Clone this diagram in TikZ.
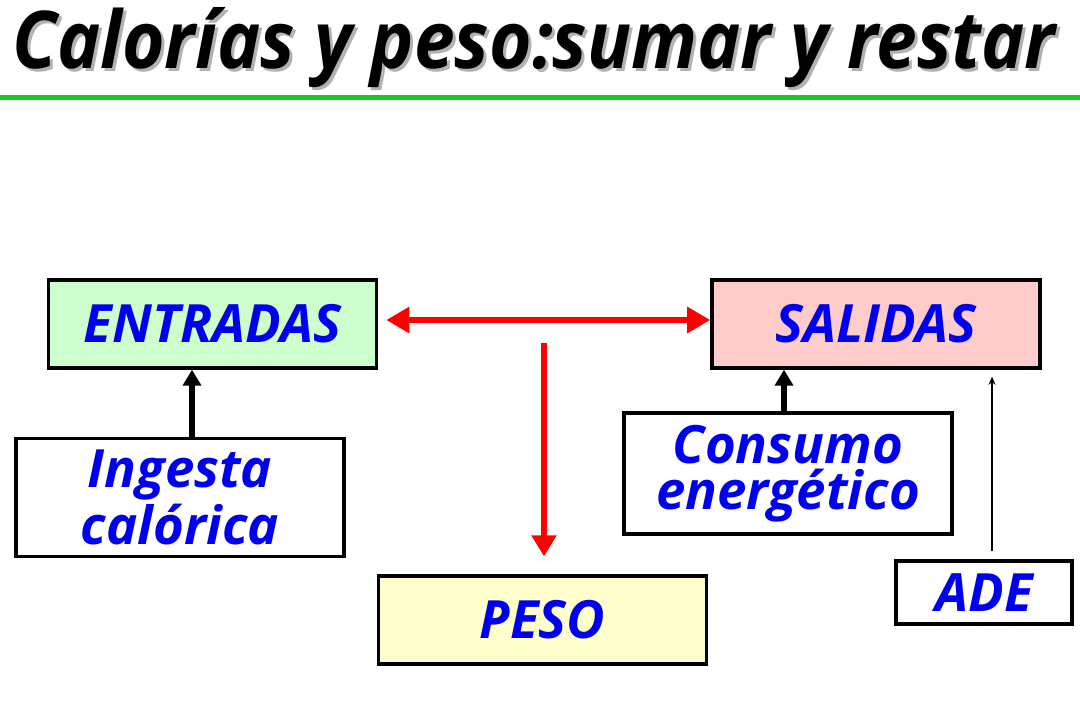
\documentclass[tikz,border=0pt]{standalone}
\usepackage{fontspec}
\usepackage{graphicx}
\usepackage{tikz}
\setmainfont{Open Sans}
\definecolor{ingreen}{HTML}{CCFFCC}
\definecolor{outred}{HTML}{FFCCCC}
\definecolor{weightyellow}{HTML}{FFFFCC}
\definecolor{rulegreen}{RGB}{30,200,30}
\definecolor{textblue}{RGB}{0,0,240}
\tikzstyle{block} = [rectangle, minimum width=3.28cm, minimum height=0.88cm, text centered, align=center, draw=black, line width=0.95pt, font=\fontsize{15}{13.2}\selectfont\bfseries\itshape, text=textblue]
\tikzstyle{arrow} = [line width=1.6pt,-{Triangle[length=0.16cm,width=0.18cm]}]
\tikzstyle{redarrow} = [draw=red, line width=1.7pt]
\usetikzlibrary{arrows.meta}
\newcommand{\titletext}{\resizebox{10.42cm}{0.61cm}{\bfseries\itshape Calorías y peso:sumar y restar}}

\begin{document}
\begin{tikzpicture}[x=0.01cm, y=-0.01cm]
        \useasboundingbox (0,0) rectangle (1080,720);
        % title with its shadow
        \node (titleshadow) [anchor=base west, inner sep=0pt, text=black!30] at (15,71) {\titletext};
        \node (title) [anchor=base west, inner sep=0pt] at (12,68) {\titletext};
        \draw [rulegreen, line width=1.4pt] (0,97.5) -- (1080,97.5);

        \node (entradas) [block, fill=ingreen] at (212.5,324) {ENTRADAS};
        \node (salidas) [block, fill=outred] at (876,324) {SALIDAS};
        \node (peso) [block, fill=weightyellow] at (542.5,620) {PESO};
        \node (ingesta) [block, fill=white, minimum height=1.15cm] at (180,497.5) {Ingesta\\calórica};
        \node (consumo) [block, fill=white, minimum height=1.15cm] at (788,473.5) {Consumo\\energético};
        \node (ade) [block, fill=white, minimum width=1.76cm, minimum height=0.63cm] at (984,592.5) {ADE};

        \draw [redarrow, {Triangle[length=0.23cm,width=0.25cm]}-{Triangle[length=0.23cm,width=0.25cm]}] ([xshift=0.08cm, yshift=0.04cm]entradas.east) -- ([yshift=0.04cm]salidas.west);
        \coordinate (split) at (544,343);
        \draw [redarrow, -{Triangle[length=0.21cm,width=0.24cm]}] (split) -- ([yshift=0.18cm]split |- peso.north);

        \draw [arrow] ([xshift=0.12cm]ingesta.north) -- ([xshift=0.12cm]ingesta.north |- entradas.south);
        \draw [arrow] ([xshift=-0.04cm]consumo.north) -- ([xshift=-0.04cm]consumo.north |- salidas.south);
        \draw [line width=0.4pt, -{Stealth[length=0.08cm,width=0.07cm]}] ([xshift=0.08cm, yshift=0.08cm]ade.north) -- ([xshift=0.08cm, yshift=-0.07cm]ade.north |- salidas.south);
    \end{tikzpicture}
\end{document}
